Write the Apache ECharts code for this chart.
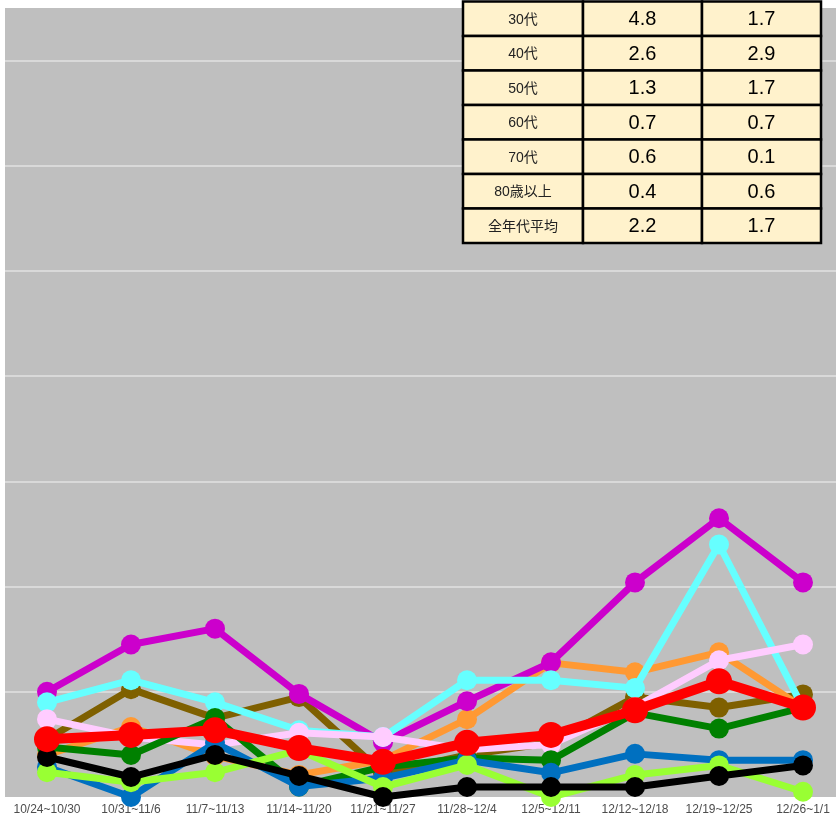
<!DOCTYPE html>
<html><head><meta charset="utf-8">
<script src="https://cdn.jsdelivr.net/npm/echarts@6/dist/echarts.min.js"></script>
<style>html,body{margin:0;padding:0;background:#fff}#c{width:836px;height:815px}</style>
</head><body><div id="c"></div>
<script>
const categories = ['10/24~10/30','10/31~11/6','11/7~11/13','11/14~11/20','11/21~11/27','11/28~12/4','12/5~12/11','12/12~12/18','12/19~12/25','12/26~1/1'];
const seriesNames = ['10歳未満','10代','20代','30代','40代','50代','60代','70代','80歳以上','全年代平均'];
const brownVals   = [1.1, 2.05, 1.5, 1.9, 0.45, 0.8, 1.03, 1.9, 1.7, 1.95];
const orangeVals  = [0.8, 1.33, 0.78, 0.42, 0.7, 1.48, 2.55, 2.37, 2.75, 1.7];
const magentaVals = [2.0, 2.9, 3.2, 1.96, 1.04, 1.82, 2.56, 4.08, 5.3, 4.08];
const cyanVals    = [1.8, 2.22, 1.8, 1.27, 1.14, 2.22, 2.22, 2.07, 4.8, 1.7];
const pinkVals    = [1.48, 1.14, 0.99, 1.22, 1.14, 0.9, 1.0, 1.71, 2.6, 2.9];
const greenVals   = [0.95, 0.8, 1.5, 0.2, 0.57, 0.74, 0.7, 1.6, 1.3, 1.7];
const blueVals    = [0.57, 0.0, 1.03, 0.2, 0.36, 0.7, 0.46, 0.82, 0.7, 0.7];
const limeVals    = [0.47, 0.28, 0.47, 0.89, 0.19, 0.61, 0.0, 0.42, 0.6, 0.1];
const blackVals   = [0.76, 0.38, 0.8, 0.4, 0.0, 0.19, 0.19, 0.19, 0.4, 0.6];
const avgVals     = [1.1, 1.18, 1.27, 0.93, 0.67, 1.03, 1.18, 1.65, 2.2, 1.7];

const tableLabels = ['30代','40代','50代','60代','70代','80歳以上','全年代平均'];
const tableCol1 = ['4.8','2.6','1.3','0.7','0.6','0.4','2.2'];
const tableCol2 = ['1.7','2.9','1.7','0.7','0.1','0.6','1.7'];

const allVals = [brownVals, orangeVals, magentaVals, cyanVals, pinkVals, greenVals, blueVals, limeVals, blackVals, avgVals];
const colors = ['#7F6000','#FF9933','#CC00CC','#66FFFF','#FFCCFF','#008000','#0070C0','#99FF33','#000000','#FF0000'];

const series = allVals.map((v, i) => {
  const isAvg = i === allVals.length - 1;
  return {
    name: seriesNames[i], type: 'line', data: v, z: 3 + i,
    symbol: 'circle', symbolSize: isAvg ? 26 : 20, showAllSymbol: true,
    lineStyle: { color: colors[i], width: isAvg ? 10 : 7 },
    itemStyle: { color: colors[i], borderWidth: 0 },
    emphasis: { disabled: true }
  };
});

// table graphic
const tX = [463, 583, 702, 821];
const tTop = 1.5, rowH = 34.5;
const graphics = [];
tableLabels.forEach((lab, r) => {
  const y = tTop + r * rowH;
  const texts = [lab, tableCol1[r], tableCol2[r]];
  for (let c = 0; c < 3; c++) {
    graphics.push({ type: 'rect', z: 100, shape: { x: tX[c], y: y, width: tX[c+1]-tX[c], height: rowH },
      style: { fill: '#FFF2CC', stroke: '#000', lineWidth: 2.5 } });
    graphics.push({ type: 'text', z: 101, x: (tX[c] + tX[c+1]) / 2, y: y + rowH / 2 + 1,
      style: { text: texts[c], fill: c === 0 ? '#222' : '#000', align: 'center', verticalAlign: 'middle',
        font: c === 0 ? '14px "Liberation Sans", "Noto Sans CJK JP", sans-serif' : '20px "Liberation Sans", "Noto Sans CJK JP", sans-serif' } });
  }
});

const chart = echarts.init(document.getElementById('c'));
chart.setOption({
  animation: false,
  grid: { left: 5, top: 8, width: 840, height: 789, outerBoundsMode: 'none', containLabel: false,
    show: true, backgroundColor: '#BFBFBF', borderWidth: 0 },
  xAxis: { type: 'category', data: categories, boundaryGap: true,
    axisLine: { show: false }, axisTick: { show: false },
    axisLabel: { interval: 0, margin: 7, fontSize: 12, color: '#4d4d4d', fontFamily: '"Liberation Sans", sans-serif' } },
  yAxis: { type: 'value', min: 0, max: 15, interval: 2,
    axisLabel: { show: false }, axisLine: { show: false }, axisTick: { show: false },
    splitLine: { show: true, showMinLine: false, showMaxLine: false, lineStyle: { color: '#D9D9D9', width: 2 } } },
  series: series,
  graphic: graphics
});
</script></body></html>
